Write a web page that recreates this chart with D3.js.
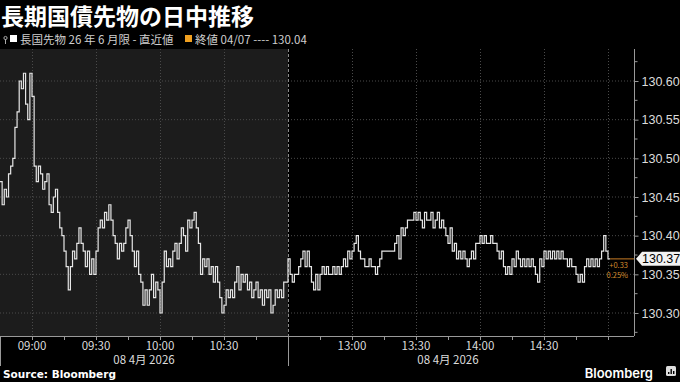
<!DOCTYPE html>
<html>
<head>
<meta charset="utf-8">
<script src="https://cdn.jsdelivr.net/npm/d3@7"></script>
<style>
  body { margin: 0; background: #000; }
  svg { display: block; }
  text { font-family: "Noto Sans CJK JP", "Noto Sans", sans-serif; }
</style>
</head>
<body>
<script>
// morning session values, one per minute from 08:45
var amStart = "08:45";
var amValues = [
  130.47, 130.44, 130.46, 130.45, 130.48, 130.49, 130.50, 130.54, 130.56, 130.60,
  130.59, 130.61, 130.57, 130.55, 130.61, 130.58, 130.49, 130.47, 130.49, 130.48,
  130.46, 130.47, 130.48, 130.44, 130.43, 130.45, 130.46, 130.43, 130.41, 130.40,
  130.38, 130.36, 130.33, 130.36, 130.38, 130.37, 130.39, 130.41, 130.39, 130.38,
  130.36, 130.38, 130.35, 130.37, 130.35, 130.38, 130.41, 130.42, 130.41, 130.43,
  130.42, 130.44, 130.42, 130.40, 130.39, 130.37, 130.39, 130.38, 130.39, 130.41,
  130.42, 130.40, 130.38, 130.36, 130.38, 130.35, 130.34, 130.31, 130.33, 130.31,
  130.33, 130.35, 130.32, 130.34, 130.33, 130.30, 130.34, 130.38, 130.36, 130.37,
  130.36, 130.38, 130.39, 130.37, 130.39, 130.41, 130.40, 130.38, 130.42, 130.41,
  130.42, 130.43, 130.41, 130.39, 130.35, 130.37, 130.36, 130.37, 130.35, 130.36,
  130.34, 130.36, 130.34, 130.32, 130.30, 130.31, 130.33, 130.32, 130.33, 130.32,
  130.34, 130.36, 130.33, 130.35, 130.34, 130.35, 130.33, 130.34, 130.32, 130.33,
  130.34, 130.32, 130.33, 130.31, 130.33, 130.32, 130.33, 130.30, 130.31, 130.33,
  130.32, 130.33, 130.32, 130.34, 130.34
];
// afternoon session values, one per minute from 12:30
var pmStart = "12:30";
var pmValues = [
  130.37, 130.35, 130.34, 130.35, 130.35, 130.36, 130.37, 130.38, 130.36, 130.38,
  130.36, 130.34, 130.33, 130.35, 130.33, 130.35, 130.36, 130.35, 130.36, 130.35,
  130.35, 130.36, 130.35, 130.36, 130.35, 130.36, 130.37, 130.36, 130.38, 130.37,
  130.38, 130.39, 130.40, 130.38, 130.37, 130.37, 130.36, 130.36, 130.37, 130.36,
  130.36, 130.35, 130.36, 130.37, 130.38, 130.38, 130.38, 130.38, 130.38, 130.38,
  130.39, 130.40, 130.37, 130.41, 130.40, 130.41, 130.42, 130.42, 130.42, 130.43,
  130.42, 130.43, 130.42, 130.41, 130.43, 130.42, 130.42, 130.43, 130.41, 130.42,
  130.43, 130.41, 130.42, 130.41, 130.40, 130.39, 130.41, 130.38, 130.39, 130.37,
  130.38, 130.37, 130.38, 130.37, 130.36, 130.37, 130.38, 130.37, 130.39, 130.39,
  130.40, 130.39, 130.40, 130.39, 130.39, 130.40, 130.39, 130.39, 130.38, 130.37,
  130.38, 130.36, 130.35, 130.36, 130.35, 130.37, 130.36, 130.38, 130.37, 130.36,
  130.37, 130.36, 130.37, 130.36, 130.37, 130.36, 130.35, 130.34, 130.37, 130.36,
  130.38, 130.37, 130.38, 130.37, 130.38, 130.37, 130.38, 130.37, 130.38, 130.37,
  130.37, 130.36, 130.37, 130.36, 130.36, 130.35, 130.34, 130.35, 130.34, 130.36,
  130.37, 130.36, 130.37, 130.36, 130.37, 130.36, 130.37, 130.38, 130.40, 130.38,
  130.37, 130.37
];
var prevClose = 130.04;
var yTicks = [130.30, 130.35, 130.40, 130.45, 130.50, 130.55, 130.60];
var timeTicks = ["09:00", "09:30", "10:00", "10:30", "13:00", "13:30", "14:00", "14:30"];
var dateLabel = "08 4月 2026";

var W = 680, H = 382;
var plot = { left: 0, right: 634, top: 49, bottom: 336 };
var amLen = 135; // 08:45 - 11:00

function toMin(s) { var p = s.split(":"); return +p[0] * 60 + +p[1]; }
// trading-minute index: afternoon continues right after the morning session
function idx(s) {
  var m = toMin(s);
  return m < toMin(pmStart) ? m - toMin(amStart) : amLen + m - toMin(pmStart);
}

var am = amValues.map(function (v, i) { return { i: i, v: v }; });
var pm = pmValues.map(function (v, i) { return { i: amLen + i, v: v }; });

var x = d3.scaleLinear().domain([0, 297.2]).range([plot.left, plot.right]);
var y = d3.scaleLinear().domain([130.30, 130.60]).range([313, 81]);

var svg = d3.select("body").append("svg").attr("width", W).attr("height", H);
svg.append("rect").attr("width", W).attr("height", H).attr("fill", "#000");

// morning shading
svg.append("rect")
  .attr("x", x(0)).attr("y", plot.top)
  .attr("width", x(amLen) - x(0)).attr("height", plot.bottom - plot.top)
  .attr("fill", "#1c1c1c");

// grid
var grid = svg.append("g");
grid.selectAll(".hg").data(yTicks).enter().append("line")
  .attr("x1", plot.left).attr("x2", plot.right)
  .attr("y1", function (d) { return y(d); }).attr("y2", function (d) { return y(d); })
  .attr("stroke", "#4a4a4a").attr("stroke-width", 1).attr("stroke-dasharray", "1,2");
grid.selectAll(".vg").data(timeTicks.concat(["15:00"])).enter().append("line")
  .attr("x1", function (d) { return Math.round(x(idx(d))) + 0.5; })
  .attr("x2", function (d) { return Math.round(x(idx(d))) + 0.5; })
  .attr("y1", plot.top).attr("y2", plot.bottom)
  .attr("stroke", "#4a4a4a").attr("stroke-width", 1).attr("stroke-dasharray", "1,2");

// session break
svg.append("line")
  .attr("x1", Math.round(x(amLen)) + 0.5).attr("x2", Math.round(x(amLen)) + 0.5)
  .attr("y1", plot.top).attr("y2", plot.bottom)
  .attr("stroke", "#8a8a8a").attr("stroke-width", 1).attr("stroke-dasharray", "3,2");

// price line
var line = d3.line()
  .x(function (d) { return x(d.i); })
  .y(function (d) { return y(d.v); })
  .curve(d3.curveStepAfter);
svg.append("path").datum(am.concat(pm))
  .attr("d", line).attr("fill", "none")
  .attr("stroke", "#e6e6e6").attr("stroke-width", 1.2);

// last value line and change
var last = pm[pm.length - 1];
svg.append("line")
  .attr("x1", x(last.i)).attr("x2", plot.right)
  .attr("y1", y(last.v)).attr("y2", y(last.v))
  .attr("stroke", "#a8681e").attr("stroke-width", 1.2);
var chg = last.v - prevClose;
svg.append("text").attr("x", plot.right - 6).attr("y", y(last.v) + 9)
  .attr("text-anchor", "end").attr("fill", "#d08a2c").style("font-size", "7.5px")
  .text("+" + chg.toFixed(2));
svg.append("text").attr("x", plot.right - 6).attr("y", y(last.v) + 19)
  .attr("text-anchor", "end").attr("fill", "#d08a2c").style("font-size", "7.5px")
  .text((chg / prevClose * 100).toFixed(2) + "%");

// right axis
var yAxis = d3.axisRight(y).tickValues(yTicks).tickSize(4).tickPadding(3)
  .tickFormat(d3.format(".2f"));
var ya = svg.append("g").attr("transform", "translate(" + (plot.right + 0.5) + ",0)").call(yAxis);
ya.select(".domain").attr("d", "M0," + plot.top + "V" + plot.bottom).attr("stroke", "#999");
ya.selectAll(".tick line").attr("stroke", "#999");
ya.selectAll(".tick text").attr("fill", "#dcdcdc").style("font-size", "12.5px")
  .style("font-family", "'Liberation Sans', Arial, sans-serif");
var minorY = d3.range(130.275, 130.63, 0.05);
ya.selectAll(".minor").data(minorY).enter().append("line")
  .attr("x1", 0).attr("x2", 3)
  .attr("y1", function (d) { return y(d); }).attr("y2", function (d) { return y(d); })
  .attr("stroke", "#999");

// last value tag
var ly = y(last.v);
svg.append("path")
  .attr("d", "M" + (plot.right + 2) + "," + ly + "L" + (plot.right + 8) + "," + (ly - 7) +
    "H" + W + "V" + (ly + 7) + "H" + (plot.right + 8) + "Z")
  .attr("fill", "#f2f2f2");
svg.append("text").attr("x", plot.right + 8).attr("y", ly + 4.5)
  .attr("fill", "#000").style("font-size", "12.5px")
  .style("font-family", "'Liberation Sans', Arial, sans-serif")
  .text(last.v.toFixed(2));

// bottom axis
svg.append("line").attr("x1", plot.left).attr("x2", plot.right)
  .attr("y1", plot.bottom + 0.5).attr("y2", plot.bottom + 0.5).attr("stroke", "#999");
var qTicks = d3.range(0, 297, 15);
svg.selectAll(".xt").data(qTicks).enter().append("line")
  .attr("x1", function (d) { return Math.round(x(d)) + 0.5; })
  .attr("x2", function (d) { return Math.round(x(d)) + 0.5; })
  .attr("y1", plot.bottom).attr("y2", plot.bottom + 4)
  .attr("stroke", "#999");
svg.selectAll(".xl").data(timeTicks).enter().append("text")
  .attr("x", function (d) { return x(idx(d)); }).attr("y", plot.bottom + 14)
  .attr("text-anchor", "middle").attr("fill", "#dcdcdc").style("font-size", "11.5px")
  .text(function (d) { return d; });
// session separators under the axis
[0, amLen].forEach(function (d) {
  svg.append("line")
    .attr("x1", Math.round(x(d)) + 0.5).attr("x2", Math.round(x(d)) + 0.5)
    .attr("y1", plot.bottom).attr("y2", 366).attr("stroke", "#999");
});
svg.append("text").attr("x", x(amLen / 2)).attr("y", plot.bottom + 27.5)
  .attr("text-anchor", "middle").attr("fill", "#dcdcdc").style("font-size", "11.5px")
  .text(dateLabel);
svg.append("text").attr("x", x(amLen + 75)).attr("y", plot.bottom + 27.5)
  .attr("text-anchor", "middle").attr("fill", "#dcdcdc").style("font-size", "11.5px")
  .text(dateLabel);

// title and legend
svg.append("text").attr("x", 1).attr("y", 25)
  .attr("fill", "#fff").style("font-size", "23px").style("font-weight", "bold")
  .text("長期国債先物の日中推移");
svg.append("line").attr("x1", 5.5).attr("x2", 5.5).attr("y1", 39).attr("y2", 44).attr("stroke", "#aaa");
svg.append("circle").attr("cx", 5.5).attr("cy", 38).attr("r", 1.6)
  .attr("fill", "none").attr("stroke", "#aaa");
svg.append("rect").attr("x", 10).attr("y", 35).attr("width", 7).attr("height", 7).attr("fill", "#fff");
svg.append("text").attr("x", 20).attr("y", 44)
  .attr("fill", "#cfcfcf").style("font-size", "11.5px")
  .text("長国先物 26 年 6 月限 - 直近値");
svg.append("rect").attr("x", 185).attr("y", 35).attr("width", 7).attr("height", 7).attr("fill", "#f0a020");
svg.append("text").attr("x", 195).attr("y", 44)
  .attr("fill", "#cfcfcf").style("font-size", "11.5px")
  .text("終値 04/07 ---- " + prevClose.toFixed(2));

// footer
svg.append("text").attr("x", 3).attr("y", 378)
  .attr("fill", "#fff").style("font-size", "10.5px").style("font-weight", "bold")
  .style("font-family", "'DejaVu Sans', sans-serif")
  .text("Source: Bloomberg");
svg.append("text").attr("x", 653).attr("y", 378)
  .attr("text-anchor", "end").attr("fill", "#fff").style("font-size", "13px")
  .style("font-weight", "600").style("font-family", "Inter, 'Noto Sans', sans-serif")
  .text("Bloomberg");
var logo = svg.append("g").attr("transform", "translate(666,366)");
logo.append("rect").attr("width", 10).attr("height", 10).attr("rx", 1.5).attr("fill", "#ddd");
[[2, 6, 2], [4.5, 3, 5], [7, 5, 3]].forEach(function (b) {
  logo.append("rect").attr("x", b[0]).attr("y", b[1]).attr("width", 1.4).attr("height", b[2]).attr("fill", "#000");
});
</script>
</body>
</html>
